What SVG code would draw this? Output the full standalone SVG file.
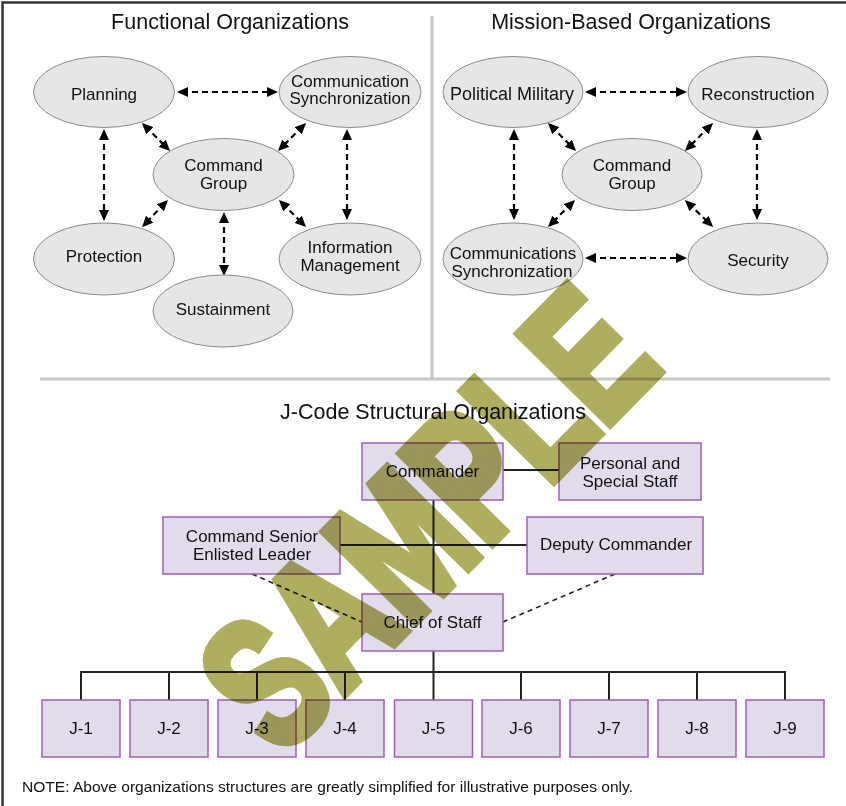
<svg xmlns="http://www.w3.org/2000/svg" width="846" height="806" viewBox="0 0 846 806">
<defs>
<style>
.bg{fill:#ffffff}
.frame{fill:none;stroke:#333333;stroke-width:2.5}
.sep{stroke:#c8c8c8;stroke-width:3}
.ell{fill:#e6e6e6;stroke:#8a8a8a;stroke-width:1}
.box{fill:#e1dbeb;stroke:#9d5fb5;stroke-width:1.5}
text{font-family:"Liberation Sans",Arial,Helvetica,sans-serif;fill:#111111}
.lbl{font-size:17px;text-anchor:middle}
.title{font-size:21.5px;text-anchor:middle}
.note{font-size:14.5px}
.arr{fill:none;stroke:#000;stroke-width:2.2;stroke-dasharray:6 4;marker-start:url(#ah);marker-end:url(#ah)}
.org{fill:none;stroke:#222;stroke-width:2}
.dash{fill:none;stroke:#222;stroke-width:1.6;stroke-dasharray:5 4}
.wm{font-weight:bold;font-size:185px;fill:#afae5f;stroke:#afae5f;stroke-width:10;stroke-linejoin:miter;mix-blend-mode:multiply}
</style>
<marker id="ah" viewBox="0 0 11 10" refX="6" refY="5" markerWidth="11" markerHeight="10" markerUnits="userSpaceOnUse" orient="auto-start-reverse">
<path d="M0,0 L11,5 L0,10 Z" fill="#000"/>
</marker>
</defs>
<rect class="bg" x="0" y="0" width="846" height="806"/>
<rect class="frame" x="2.5" y="2.5" width="860" height="820"/>
<g id="separators">
<line class="sep" x1="432" y1="16" x2="432" y2="378"/>
<line class="sep" x1="40" y1="379" x2="830" y2="379"/>
</g>
<g id="titles">
<text class="title" x="230" y="29">Functional Organizations</text>
<text class="title" x="631" y="29">Mission-Based Organizations</text>
<text class="title" x="433" y="419">J-Code Structural Organizations</text>
</g>
<g id="connectors">
<line class="arr" x1="182" y1="92" x2="273" y2="92"/>
<line class="arr" x1="104" y1="134" x2="104" y2="216"/>
<line class="arr" x1="347" y1="134" x2="347" y2="215"/>
<line class="arr" x1="145.5" y1="126.5" x2="166.5" y2="147.5"/>
<line class="arr" x1="302.5" y1="126.5" x2="281.5" y2="147.5"/>
<line class="arr" x1="164.5" y1="203.5" x2="145.5" y2="223.5"/>
<line class="arr" x1="282.5" y1="203.5" x2="302.5" y2="223.5"/>
<line class="arr" x1="224" y1="217" x2="224" y2="271"/>
<line class="arr" x1="590" y1="92" x2="682" y2="92"/>
<line class="arr" x1="590" y1="258" x2="682" y2="258"/>
<line class="arr" x1="514" y1="134" x2="514" y2="215"/>
<line class="arr" x1="757" y1="134" x2="757" y2="215"/>
<line class="arr" x1="551.5" y1="126.5" x2="572.5" y2="147.5"/>
<line class="arr" x1="709.5" y1="126.5" x2="688.5" y2="147.5"/>
<line class="arr" x1="571.5" y1="203.5" x2="551.5" y2="223.5"/>
<line class="arr" x1="688.5" y1="203.5" x2="709.5" y2="223.5"/>
<line class="org" x1="503" y1="470" x2="559" y2="470"/>
<line class="org" x1="433.5" y1="500" x2="433.5" y2="594"/>
<line class="org" x1="340" y1="545" x2="527" y2="545"/>
<line class="org" x1="433.5" y1="651" x2="433.5" y2="672"/>
<path class="org" d="M81,700 V672 H785 V700 M169,672 V700 M257,672 V700 M345,672 V700 M433.5,672 V700 M521,672 V700 M609,672 V700 M697,672 V700"/>
<line class="dash" x1="252" y1="574" x2="362" y2="622"/>
<line class="dash" x1="615" y1="574" x2="503" y2="622"/>
</g>
<g id="f-planning"><ellipse class="ell" cx="104" cy="92" rx="70.5" ry="35.5"/><text class="lbl" x="104" y="100">Planning</text></g>
<g id="f-commsync"><ellipse class="ell" cx="350" cy="92" rx="71" ry="35.5"/><text class="lbl" x="350" y="86.5">Communication</text><text class="lbl" x="350" y="104">Synchronization</text></g>
<g id="f-command"><ellipse class="ell" cx="223.5" cy="174.5" rx="70.5" ry="36"/><text class="lbl" x="223.5" y="170.5">Command</text><text class="lbl" x="223.5" y="188.5">Group</text></g>
<g id="f-protection"><ellipse class="ell" cx="104" cy="259" rx="70.5" ry="36"/><text class="lbl" x="104" y="262">Protection</text></g>
<g id="f-info"><ellipse class="ell" cx="350" cy="259" rx="71" ry="36"/><text class="lbl" x="350" y="252.5">Information</text><text class="lbl" x="350" y="270.5">Management</text></g>
<g id="f-sustainment"><ellipse class="ell" cx="223" cy="311" rx="70" ry="36"/><text class="lbl" x="223" y="315">Sustainment</text></g>
<g id="m-polmil"><ellipse class="ell" cx="513" cy="92" rx="70" ry="35.5"/><text class="lbl" x="512" y="100" style="font-size:18px">Political Military</text></g>
<g id="m-recon"><ellipse class="ell" cx="758" cy="92" rx="70" ry="35.5"/><text class="lbl" x="758" y="100">Reconstruction</text></g>
<g id="m-command"><ellipse class="ell" cx="632" cy="174.5" rx="70" ry="36"/><text class="lbl" x="632" y="170.5">Command</text><text class="lbl" x="632" y="189">Group</text></g>
<g id="m-commsync"><ellipse class="ell" cx="513" cy="259" rx="70" ry="36"/><text class="lbl" x="513" y="259">Communications</text><text class="lbl" x="512" y="277">Synchronization</text></g>
<g id="m-security"><ellipse class="ell" cx="758" cy="259" rx="70" ry="36"/><text class="lbl" x="758" y="266">Security</text></g>
<g id="j-commander"><rect class="box" x="362" y="443" width="141" height="57"/><text class="lbl" x="432.5" y="477">Commander</text></g>
<g id="j-personal"><rect class="box" x="559" y="443" width="142" height="57"/><text class="lbl" x="630" y="468.5">Personal and</text><text class="lbl" x="630" y="486.5">Special Staff</text></g>
<g id="j-csel"><rect class="box" x="163" y="517" width="177" height="57"/><text class="lbl" x="252" y="541.5">Command Senior</text><text class="lbl" x="252" y="560">Enlisted Leader</text></g>
<g id="j-deputy"><rect class="box" x="527" y="517" width="176" height="57"/><text class="lbl" x="616" y="549.5">Deputy Commander</text></g>
<g id="j-cos"><rect class="box" x="362" y="594" width="141" height="57"/><text class="lbl" x="432.5" y="627.5">Chief of Staff</text></g>
<g id="j-1"><rect class="box" x="42" y="700" width="78" height="57"/><text class="lbl" x="81" y="733.5">J-1</text></g>
<g id="j-2"><rect class="box" x="130" y="700" width="78" height="57"/><text class="lbl" x="169" y="733.5">J-2</text></g>
<g id="j-3"><rect class="box" x="218" y="700" width="78" height="57"/><text class="lbl" x="257" y="733.5">J-3</text></g>
<g id="j-4"><rect class="box" x="306" y="700" width="78" height="57"/><text class="lbl" x="345" y="733.5">J-4</text></g>
<g id="j-5"><rect class="box" x="394.5" y="700" width="78" height="57"/><text class="lbl" x="433.5" y="733.5">J-5</text></g>
<g id="j-6"><rect class="box" x="482" y="700" width="78" height="57"/><text class="lbl" x="521" y="733.5">J-6</text></g>
<g id="j-7"><rect class="box" x="570" y="700" width="78" height="57"/><text class="lbl" x="609" y="733.5">J-7</text></g>
<g id="j-8"><rect class="box" x="658" y="700" width="78" height="57"/><text class="lbl" x="697" y="733.5">J-8</text></g>
<g id="j-9"><rect class="box" x="746" y="700" width="78" height="57"/><text class="lbl" x="785" y="733.5">J-9</text></g>
<text class="note" x="22" y="792" textLength="611" lengthAdjust="spacingAndGlyphs">NOTE: Above organizations structures are greatly simplified for illustrative purposes only.</text>
<text id="watermark" class="wm" transform="translate(284,762) rotate(-45.5)" x="0" y="-5" textLength="548" lengthAdjust="spacingAndGlyphs">SAMPLE</text>
</svg>
